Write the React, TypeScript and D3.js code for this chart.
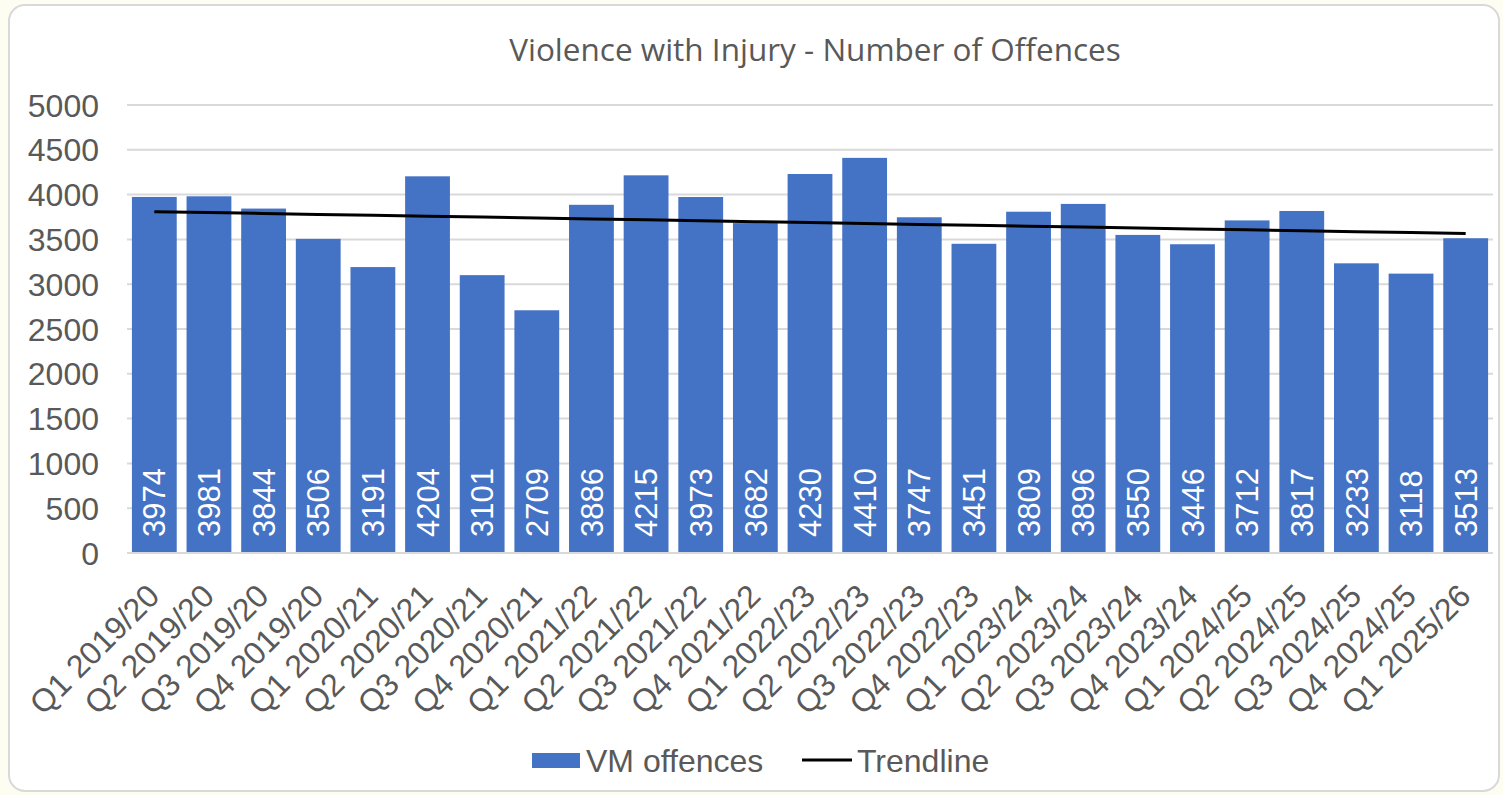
import React from "react";
import * as d3 from "d3";

const categories = [
  "Q1 2019/20","Q2 2019/20","Q3 2019/20","Q4 2019/20",
  "Q1 2020/21","Q2 2020/21","Q3 2020/21","Q4 2020/21",
  "Q1 2021/22","Q2 2021/22","Q3 2021/22","Q4 2021/22",
  "Q1 2022/23","Q2 2022/23","Q3 2022/23","Q4 2022/23",
  "Q1 2023/24","Q2 2023/24","Q3 2023/24","Q4 2023/24",
  "Q1 2024/25","Q2 2024/25","Q3 2024/25","Q4 2024/25",
  "Q1 2025/26",
];
const offences = [
  3974, 3981, 3844, 3506, 3191, 4204, 3101, 2709, 3886, 4215, 3973, 3682,
  4230, 4410, 3747, 3451, 3809, 3896, 3550, 3446, 3712, 3817, 3233, 3118, 3513,
];
const yTicks = [0, 500, 1000, 1500, 2000, 2500, 3000, 3500, 4000, 4500, 5000];
const title = "Violence with Injury - Number of Offences";
const legendLabels = ["VM offences", "Trendline"];

const W = 1503, H = 795;
const M = { left: 127, right: 1493, top: 105, bottom: 553 };
const BAR = "#4472c4";
const TXT = "#595959";
const FONT = "'Liberation Sans', Arial, sans-serif";

export default function App() {
  const x = d3.scaleBand<string>().domain(categories).range([M.left, M.right]).paddingInner(0.18).paddingOuter(0.09);
  const y = d3.scaleLinear().domain([0, 5000]).range([M.bottom, M.top]);

  // least squares linear trend
  const xs = offences.map((_, i) => i + 1);
  const mx = d3.mean(xs)!;
  const my = d3.mean(offences)!;
  const slope = d3.sum(xs.map((xi, i) => (xi - mx) * (offences[i] - my))) / d3.sum(xs.map((xi) => (xi - mx) ** 2));
  const icpt = my - slope * mx;
  const trend: [number, number][] = categories.map((c, i) => [x(c)! + x.bandwidth() / 2, y(icpt + slope * (i + 1))]);
  const line = d3.line();

  return (
    <svg width={W} height={H} style={{ position: "absolute", left: 0, top: 0 }}>
      <rect x={0} y={0} width={W} height={H} fill="#fefdf2" />
      <rect x={9} y={5} width={1490} height={786} rx={16} fill="#ffffff" stroke="#d9d9d9" strokeWidth={2} />
      <text x={815} y={61} textAnchor="middle" fontFamily="'Open Sans', sans-serif" fontSize={31.5} fill={TXT}>{title}</text>
      {yTicks.map((t) => (
        <g key={t}>
          <line x1={M.left} x2={M.right} y1={y(t)} y2={y(t)} stroke="#d9d9d9" strokeWidth={2} />
          <text x={99} y={y(t)} dy="0.36em" textAnchor="end" fontFamily={FONT} fontSize={32} fill={TXT}>{t}</text>
        </g>
      ))}
      {categories.map((c, i) => {
        const cx = x(c)! + x.bandwidth() / 2;
        return (
          <g key={c}>
            <rect x={x(c)} y={y(offences[i])} width={x.bandwidth()} height={y(0) - y(offences[i])} fill={BAR} />
            <text transform={`translate(${cx},${537}) rotate(-90)`} dy="0.36em" fontFamily={FONT} fontSize={31} fill="#ffffff">{offences[i]}</text>
            <text transform={`translate(${cx + 7},${598}) rotate(-45)`} textAnchor="end" fontFamily={FONT} fontSize={32} fill={TXT}>{c}</text>
          </g>
        );
      })}
      <line x1={M.left} x2={M.right} y1={y(0)} y2={y(0)} stroke="#d9d9d9" strokeWidth={2} />
      <path d={line(trend)!} fill="none" stroke="#000000" strokeWidth={3} />
      <rect x={532} y={753} width={48} height={15} fill={BAR} />
      <text x={586} y={760} dy="0.36em" fontFamily={FONT} fontSize={32} fill={TXT}>{legendLabels[0]}</text>
      <line x1={802} x2={852} y1={760} y2={760} stroke="#000000" strokeWidth={3} />
      <text x={857} y={760} dy="0.36em" fontFamily={FONT} fontSize={32} fill={TXT}>{legendLabels[1]}</text>
    </svg>
  );
}
